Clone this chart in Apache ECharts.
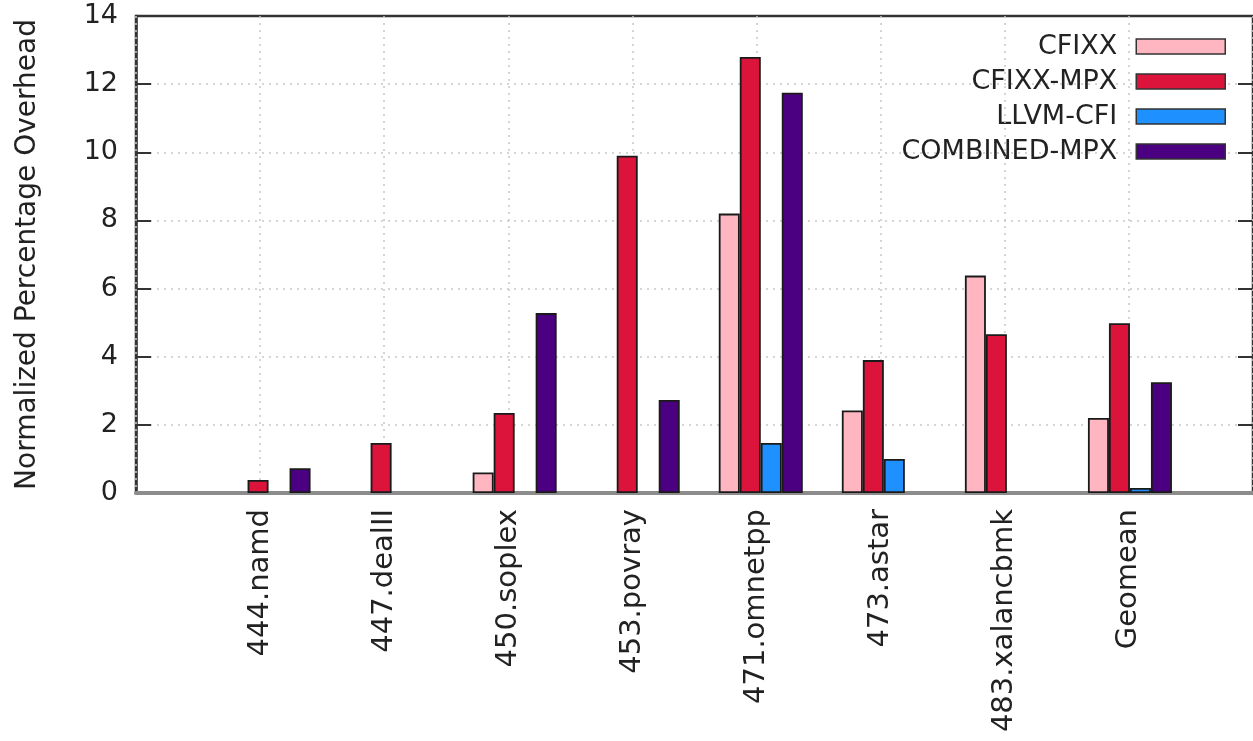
<!DOCTYPE html>
<html>
<head>
<meta charset="UTF-8">
<title>Normalized Percentage Overhead</title>
<script src="https://cdn.jsdelivr.net/npm/echarts@6/dist/echarts.min.js"></script>
<style>
  html, body { margin: 0; padding: 0; background: #fff; overflow: hidden; }
  #chart { width: 1253px; height: 741px; }
</style>
</head>
<body>
<div id="chart"></div>
<script>
// benchmarks and overheads (%), null = no bar drawn
var benchmarks = ['444.namd', '447.dealII', '450.soplex', '453.povray', '471.omnetpp', '473.astar', '483.xalancbmk', 'Geomean'];
var cfixx       = [null, null, 0.6, null, 8.2, 2.42, 6.38, 2.2];
var cfixxMpx    = [0.38, 1.47, 2.35, 9.9, 12.8, 3.9, 4.66, 4.98];
var llvmCfi     = [null, null, null, null, 1.47, 1.0, null, 0.15];
var combinedMpx = [0.73, null, 5.28, 2.73, 11.75, null, null, 3.25];
var seriesNames = ['CFIXX', 'CFIXX-MPX', 'LLVM-CFI', 'COMBINED-MPX'];
var seriesColors = ['#ffb6c1', '#dc143c', '#1e90ff', '#4b0082'];
var yMin = 0, yMax = 14, yStep = 2;

// gnuplot-like x range [-1:8]: one empty slot on each side
var slots = [''].concat(benchmarks, ['']);
function pad(arr) { return [null].concat(arr, [null]); }

var font = 'DejaVu Sans';
var chart = echarts.init(document.getElementById('chart'));

var seriesData = [cfixx, cfixxMpx, llvmCfi, combinedMpx];
var series = seriesData.map(function (vals, i) {
  return {
    name: seriesNames[i],
    type: 'bar',
    xAxisIndex: 0,
    yAxisIndex: 0,
    z: 10,
    barWidth: 21,
    barGap: '0%',
    itemStyle: { color: seriesColors[i], borderColor: '#1a1a1a', borderWidth: 1.8 },
    data: pad(vals)
  };
});

var dotted = { type: [2, 5], color: '#c8c8c8', width: 1.5 };

var option = {
  animation: false,
  backgroundColor: '#fff',
  textStyle: { fontFamily: font },
  grid: [
    // bars (clusters sit a little right of the tics, as in gnuplot)
    { left: 145.5, top: 16, width: 1128, height: 477 },
    // frame, tics, grid lines
    { left: 136, top: 16, width: 1128, height: 477, show: true, z: 5, borderColor: '#333', borderWidth: 2.5, backgroundColor: 'transparent' }
  ],
  legend: {
    orient: 'vertical',
    align: 'right',
    right: 27,
    top: 33,
    padding: 0,
    itemWidth: 89,
    itemHeight: 15,
    itemGap: 8,
    icon: 'rect',
    data: seriesNames,
    itemStyle: { borderColor: '#333', borderWidth: 1.5 },
    textStyle: { fontFamily: font, fontSize: 27, lineHeight: 27, color: '#222', padding: [0, 14, 0, 0] }
  },
  xAxis: [
    {
      type: 'category', gridIndex: 0, data: slots, boundaryGap: false, show: false
    },
    {
      type: 'category', gridIndex: 1, data: slots, boundaryGap: false, z: 6,
      axisLine: { lineStyle: { color: '#8c8c8c', width: 4 } },
      axisTick: { show: false },
      axisLabel: { rotate: 90, interval: 0, margin: 16, fontSize: 29, color: '#222', fontFamily: font },
      splitLine: { show: true, interval: 0, lineStyle: dotted }
    }
  ],
  yAxis: [
    {
      type: 'value', gridIndex: 0, min: yMin, max: yMax, interval: yStep, show: false
    },
    {
      type: 'value', gridIndex: 1, min: yMin, max: yMax, interval: yStep,
      name: 'Normalized Percentage Overhead',
      nameLocation: 'middle',
      nameGap: 94,
      nameTextStyle: { fontSize: 28, color: '#222', fontFamily: font },
      axisLine: { show: true, lineStyle: { color: '#333', width: 2.5 } },
      axisTick: { show: true, inside: true, length: 15, lineStyle: { color: '#333', width: 2 } },
      axisLabel: { fontSize: 27, margin: 18, color: '#222', fontFamily: font },
      splitLine: { show: true, lineStyle: dotted }
    },
    {
      type: 'value', gridIndex: 1, min: yMin, max: yMax, interval: yStep, position: 'right',
      axisLine: { show: false },
      axisTick: { show: true, inside: true, length: 15, lineStyle: { color: '#333', width: 2 } },
      axisLabel: { show: false },
      splitLine: { show: false }
    }
  ],
  series: series
};

chart.setOption(option);
</script>
</body>
</html>
